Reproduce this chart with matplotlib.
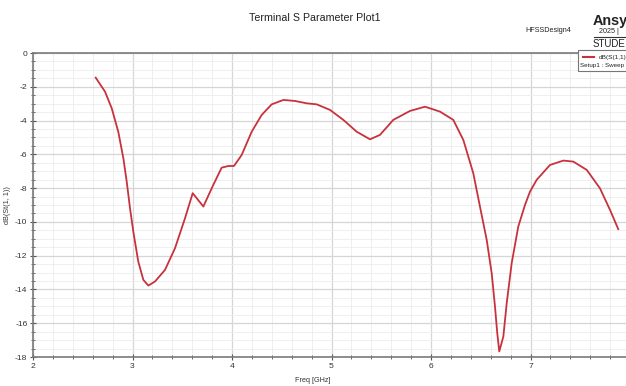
"""Terminal S parameter plot (HFSS style) recreated with matplotlib."""

import matplotlib.pyplot as plt
from matplotlib import font_manager
from matplotlib.lines import Line2D
from matplotlib.patches import Rectangle
from matplotlib.ticker import MultipleLocator

# values
freq_ghz = [
    2.630, 2.724, 2.791, 2.857, 2.908, 2.942, 2.975, 3.008, 3.058, 3.109,
    3.159, 3.226, 3.327, 3.427, 3.528, 3.605, 3.712, 3.812, 3.896, 3.963,
    4.020, 4.097, 4.198, 4.298, 4.399, 4.516, 4.633, 4.751, 4.851, 4.985,
    5.119, 5.253, 5.387, 5.487, 5.621, 5.789, 5.940, 6.090, 6.224, 6.325,
    6.425, 6.492, 6.560, 6.610, 6.643, 6.666, 6.686, 6.727, 6.761, 6.811,
    6.877, 6.945, 6.995, 7.062, 7.196, 7.330, 7.430, 7.565, 7.698, 7.799,
    7.882,
]
s11_db = [
    -1.46, -2.29, -3.27, -4.66, -6.23, -7.62, -9.19, -10.57, -12.35, -13.43,
    -13.77, -13.53, -12.84, -11.56, -9.78, -8.30, -9.09, -7.81, -6.79, -6.69,
    -6.69, -6.04, -4.66, -3.67, -3.04, -2.78, -2.84, -2.98, -3.04, -3.37,
    -3.96, -4.66, -5.11, -4.85, -3.96, -3.43, -3.18, -3.47, -3.96, -5.15,
    -7.12, -9.09, -11.07, -13.04, -15.01, -16.59, -17.67, -16.79, -14.81, -12.44,
    -10.28, -8.99, -8.21, -7.51, -6.63, -6.37, -6.43, -6.92, -8.01, -9.29,
    -10.43,
]
x_ticks = [2, 3, 4, 5, 6, 7]
y_ticks = [0, -2, -4, -6, -8, -10, -12, -14, -16, -18]

# HFSS uses a narrow sans face; take the narrowest one installed
installed = {f.name for f in font_manager.fontManager.ttflist}
narrow = [n for n in ("Liberation Sans Narrow", "DejaVu Sans Condensed")
          if n in installed]
plt.rcParams["font.family"] = narrow + ["Liberation Sans", "DejaVu Sans"]
plt.rcParams["axes.unicode_minus"] = False
# shrink a bit when only a regular-width face exists
k = 1.0 if narrow else 0.9

W, H = 626, 386
fig = plt.figure(figsize=(W / 100, H / 100), dpi=100)
ax = fig.add_axes([33 / W, 1 - 357 / H, 597 / W, 304 / H])

ax.plot(freq_ghz, s11_db, color="#c8323c", lw=1.3, solid_joinstyle="round")

ax.set_xlim(2, 8)
ax.set_ylim(-18, 0)
ax.set_xticks(x_ticks)
ax.set_yticks(y_ticks)
ax.xaxis.set_minor_locator(MultipleLocator(0.2))
ax.yaxis.set_minor_locator(MultipleLocator(0.5))
ax.grid(True, which="major", color="#d6d6d6", lw=0.9)
ax.grid(True, which="minor", color="#ececec", lw=0.6)
ax.set_axisbelow(True)

for side in ("left", "bottom", "top"):
    ax.spines[side].set_color("#7a7a7a")
    ax.spines[side].set_linewidth(1.2)
ax.spines["right"].set_visible(False)

ax.tick_params(which="major", direction="inout", length=5, width=0.8,
               color="#555555", labelsize=6.8 * k, labelcolor="#333333")
ax.tick_params(which="minor", direction="inout", length=3, width=0.6,
               color="#555555")
ax.tick_params(axis="x", pad=2)
ax.tick_params(axis="y", pad=1.5)

fig.text(8 / W, 1 - 205 / H, "dB(St(1, 1))", rotation=90, fontsize=5.8 * k,
         ha="center", va="center", color="#333333")
fig.text(313 / W, 1 - 380 / H, "Freq [GHz]", fontsize=5.8 * k,
         ha="center", va="center", color="#333333")
fig.text(315 / W, 1 - 18 / H, "Terminal S Parameter Plot1", fontsize=8.5 * k,
         ha="center", va="center", color="#222222")

# HFSS branding block at top right
fig.text(548 / W, 1 - 30 / H, "HFSSDesign4", fontsize=5.8 * k,
         ha="center", va="center", color="#222222")
fig.text(593 / W, 1 - 21 / H, "Ansy", fontsize=11.5 * k, fontweight="bold",
         ha="left", va="center", color="#222222")
fig.text(599 / W, 1 - 31.5 / H, "2025 |", fontsize=5.8 * k,
         ha="left", va="center", color="#222222")
fig.text(593 / W, 1 - 44 / H, "STUDE", fontsize=7.8 * k,
         ha="left", va="center", color="#222222")
fig.add_artist(Line2D([594 / W, 1], [1 - 37 / H] * 2, color="#333333", lw=0.8))

# legend box
fig.add_artist(Rectangle((578 / W, 1 - 71 / H), 60 / W, 21 / H,
                         facecolor="white", edgecolor="#777777", lw=0.8))
fig.add_artist(Line2D([583 / W, 594 / W], [1 - 57 / H] * 2,
                      color="#c8323c", lw=1.5))
fig.text(599 / W, 1 - 57 / H, "dB(S(1,1))", fontsize=5.2 * k,
         ha="left", va="center", color="#222222")
fig.text(580 / W, 1 - 66 / H, "Setup1 : Sweep", fontsize=5.0 * k,
         ha="left", va="center", color="#222222")

fig.savefig("out.png", dpi=100)
